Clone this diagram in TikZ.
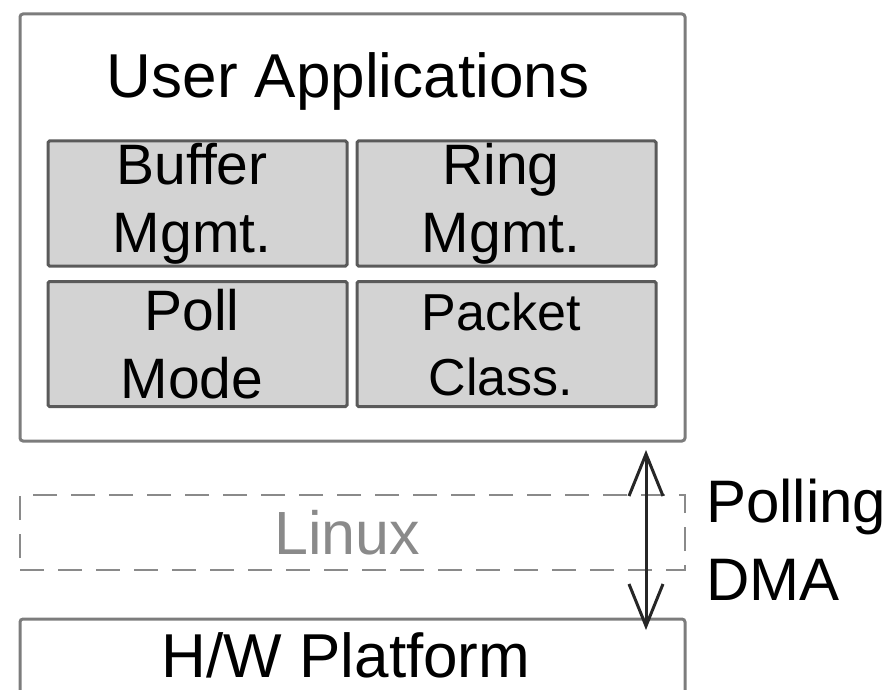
\documentclass[tikz,border=0pt]{standalone}
\usepackage{fontspec}
\setmainfont{Liberation Sans}
\usetikzlibrary{arrows.meta}
\definecolor{framegray}{HTML}{7C7C7C}
\definecolor{modgray}{HTML}{5A5A5A}
\definecolor{modfill}{HTML}{D3D3D3}
\definecolor{lightgray}{HTML}{8A8A8A}
% trailing pad that nudges centred text slightly to the left
\newcommand{\lpad}{\hspace*{11pt}}
\tikzset{
  layerbox/.style={draw=framegray, line width=3pt, rounded corners=3pt,
    inner sep=0pt, outer sep=0pt},
  module/.style={draw=modgray, fill=modfill, line width=3pt, rounded corners=1.5pt,
    minimum width=299pt, minimum height=125pt, inner sep=0pt, outer sep=0pt,
    align=center, font=\fontsize{57}{68}\selectfont},
  dashbox/.style={draw=lightgray, line width=2.5pt, dash pattern=on 24pt off 14pt,
    inner sep=0pt, outer sep=0pt},
  bigtext/.style={font=\fontsize{62}{74}\selectfont, inner sep=0pt},
  sidetext/.style={font=\fontsize{60}{72}\selectfont, inner sep=0pt, anchor=base west},
  link/.style={line width=3pt, black!85,
    {Straight Barb[length=42pt, width=34pt, line width=3pt]}-{Straight Barb[length=42pt, width=34pt, line width=3pt]}}
}
\begin{document}
\begin{tikzpicture}[x=1pt, y=-1pt]
\useasboundingbox (0,0) rectangle (894,690);
\clip (0,0) rectangle (894,690);

% user-space application layer
\node[layerbox, minimum width=665pt, minimum height=427pt] (apps) at (352.5,227.5) {};
\node[bigtext, anchor=base] (title) at (348,98) {User Applications};

% library modules
\node[module] (buf)  at (197.5,203.5) {Buffer\lpad\\Mgmt.\lpad};
\node[module] (ring) at (506.5,203.5) {Ring\lpad\\Mgmt.\lpad};
\node[module] (poll) at (197.5,344) {Poll\lpad\\Mode\lpad};
\node[module, font=\fontsize{52}{65}\selectfont] (pkt) at (506.5,344) {Packet\lpad\\Class.\lpad};

% bypassed kernel layer
\node[dashbox, minimum width=665pt, minimum height=75pt,
      text=lightgray, font=\fontsize{61}{72}\selectfont] (linux) at (352.5,532.5) {Linux\lpad};

% hardware layer
\node[layerbox, minimum width=665pt, minimum height=160pt] (hw) at (352.5,699) {};
\node[bigtext, anchor=base] (hwtext) at (346,677) {H/W Platform};

% direct access path
\coordinate (upper) at (646,450);
\coordinate (lower) at (646,630);
\draw[link] (upper) -- (lower);
\node[sidetext] (polling) at (706,522) {Polling};
\node[sidetext] (dma) at (706,600) {DMA};
\end{tikzpicture}
\end{document}
